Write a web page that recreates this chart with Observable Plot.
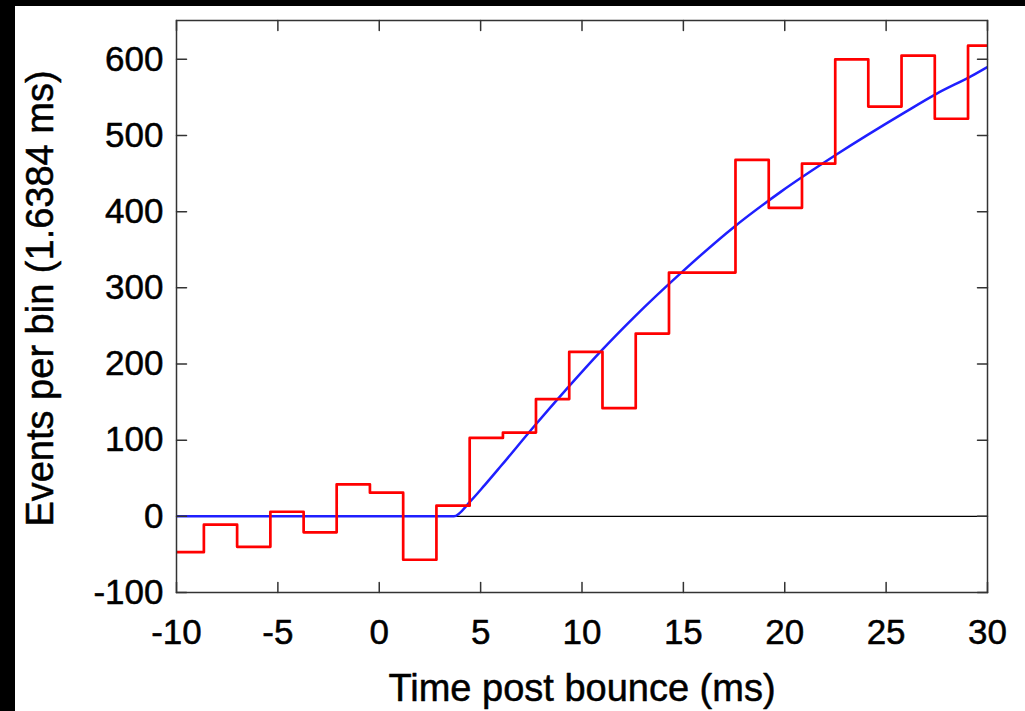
<!DOCTYPE html>
<html>
<head>
<meta charset="utf-8">
<script src="https://cdn.jsdelivr.net/npm/d3@7"></script>
<script src="https://cdn.jsdelivr.net/npm/@observablehq/plot@0.6"></script>
<style>
  html, body { margin: 0; padding: 0; background: #000; width: 1025px; height: 711px; overflow: hidden; }
  #chart { position: absolute; left: 15px; top: 6px; width: 1010px; height: 705px; background: #fff; }
  #chart svg { display: block; font-family: "Liberation Sans", Arial, Helvetica, sans-serif; }
</style>
</head>
<body>
<div id="chart"></div>
<script>
// Histogram bin edges (ms) and counts per bin
const binEdges = [-10.29, -8.65, -7.01, -5.37, -3.73, -2.10, -0.46, 1.18, 2.82, 4.46, 6.10, 7.73, 9.37, 11.01, 12.65, 14.29, 15.93, 17.57, 19.21, 20.85, 22.49, 24.12, 25.76, 27.40, 29.04, 30.68];
const binCounts = [-47, -11, -40, 6, -21, 42, 31, -57, 14, 103, 110, 154, 216, 142, 240, 320, 320, 468, 405, 463, 600, 538, 605, 522, 618];

// Model curve (blue)
const modelTime  = [-10, 3.68, 4.5, 5.2, 6.0, 7.6, 9.3, 10.9, 12.55, 14.9, 17.5, 19.8, 22.55, 25.9, 27.5, 29.2, 30];
const modelValue = [0, 0, 20, 41, 66, 117, 169, 216, 261, 320, 380, 426, 475, 530, 555, 578, 590];

const xTicks = [-10, -5, 0, 5, 10, 15, 20, 25, 30];
const yTicks = [-100, 0, 100, 200, 300, 400, 500, 600];

// Build step table: each bin start with its count, plus final edge
const histo = binCounts.map((v, i) => ({t: binEdges[i], v}));
histo.push({t: binEdges[binEdges.length - 1], v: binCounts[binCounts.length - 1]});
const model = modelTime.map((t, i) => ({t, v: modelValue[i]}));

const tickShape = {
  draw(context, l) { context.moveTo(0, 0); context.lineTo(0, -l); }
};
const tickStyle = {shape: tickShape, anchor: "start", length: 10, stroke: "#333", strokeWidth: 1.5};
const labelStyle = {fill: "#000", stroke: "#000", strokeWidth: 0.5};

const chart = Plot.plot({
  width: 1010,
  height: 705,
  marginLeft: 161,
  marginRight: 38,
  marginTop: 14,
  marginBottom: 119,
  style: {background: "#fff", fontFamily: "Liberation Sans, Arial, sans-serif"},
  x: {domain: [-10, 30], axis: null},
  y: {domain: [-100, 651], axis: null},
  marks: [
    Plot.ruleY([0], {stroke: "#000", strokeWidth: 1.2}),
    Plot.line(model, {x: "t", y: "v", curve: "monotone-x", stroke: "#1f1fff", strokeWidth: 2.5, clip: true}),
    Plot.line(histo, {x: "t", y: "v", curve: "step-after", stroke: "#ff0000", strokeWidth: 2.7, clip: true}),
    // inward ticks on all four sides
    Plot.vector(xTicks, {x: d => d, frameAnchor: "bottom", rotate: 0, ...tickStyle}),
    Plot.vector(xTicks, {x: d => d, frameAnchor: "top", rotate: 180, ...tickStyle}),
    Plot.vector(yTicks, {y: d => d, frameAnchor: "left", rotate: 90, ...tickStyle}),
    Plot.vector(yTicks, {y: d => d, frameAnchor: "right", rotate: -90, ...tickStyle}),
    Plot.frame({stroke: "#333", strokeWidth: 1.5}),
    // tick labels
    Plot.text(xTicks, {x: d => d, frameAnchor: "bottom", text: d => String(d), dy: 40, textAnchor: "middle", lineAnchor: "middle", fontSize: 35, ...labelStyle}),
    Plot.text(yTicks, {y: d => d, frameAnchor: "left", text: d => String(d), dx: -13, textAnchor: "end", lineAnchor: "middle", fontSize: 35, ...labelStyle}),
    // axis titles
    Plot.text(["Time post bounce (ms)"], {frameAnchor: "bottom", text: d => d, dy: 96, textAnchor: "middle", lineAnchor: "middle", fontSize: 38, ...labelStyle}),
    Plot.text(["Events per bin (1.6384 ms)"], {frameAnchor: "left", text: d => d, dx: -136, dy: -8, rotate: -90, textAnchor: "middle", lineAnchor: "middle", fontSize: 38, ...labelStyle})
  ]
});
document.getElementById("chart").appendChild(chart);
</script>
</body>
</html>
